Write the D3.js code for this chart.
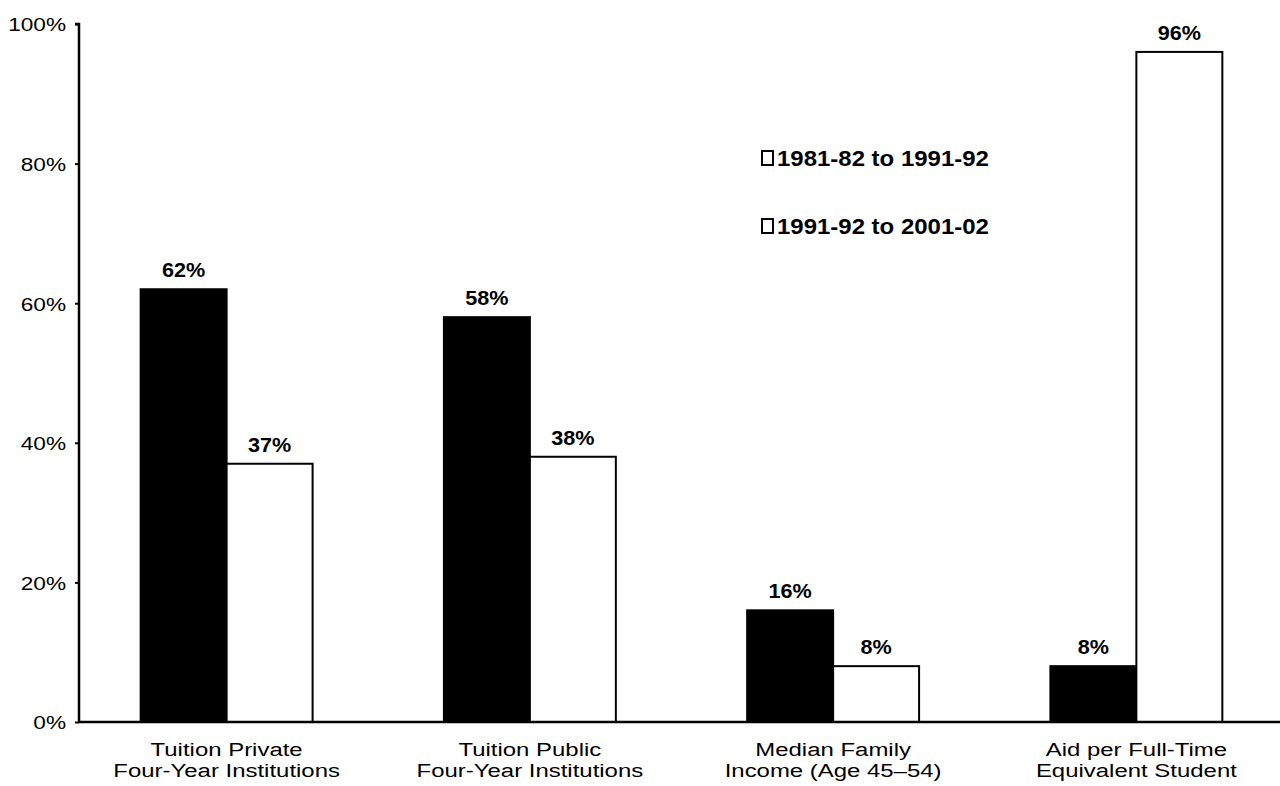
<!DOCTYPE html>
<html>
<head>
<meta charset="utf-8">
<script src="https://cdn.jsdelivr.net/npm/d3@7"></script>
<style>
  html, body { margin: 0; padding: 0; background: #fff; }
  svg { display: block; font-family: "Liberation Sans", Arial, sans-serif; }
</style>
</head>
<body>
<svg id="chart" width="1280" height="786"></svg>
<script>
// Percentage change over each decade
const categories = [
  ["Tuition Private", "Four-Year Institutions"],
  ["Tuition Public", "Four-Year Institutions"],
  ["Median Family", "Income (Age 45\u201354)"],
  ["Aid per Full-Time", "Equivalent Student"]
];
const seriesNames = ["1981-82 to 1991-92", "1991-92 to 2001-02"];
const series1 = [62, 58, 16, 8];   // 1981-82 to 1991-92
const series2 = [37, 38, 8, 96];   // 1991-92 to 2001-02
const yTicks = [0, 20, 40, 60, 80, 100];

const fills = ["#000", "#fff"];

const svg = d3.select("#chart");
const y0 = 722, yTop = 24, xLeft = 79;

const y = d3.scaleLinear().domain([0, 100]).range([y0, yTop]);

const x0 = d3.scaleBand()
  .domain(d3.range(categories.length))
  .range([75, 1288])
  .paddingInner(0.433)
  .paddingOuter(0.2165);

const x1 = d3.scaleBand()
  .domain([0, 1])
  .range([0, x0.bandwidth()]);

const rows = categories.map((c, i) => ({ i, values: [series1[i], series2[i]] }));

// Text with a wide, horizontally stretched face
function wideText(parent, x, y, sx, text, opts) {
  const t = parent.append("text")
    .attr("transform", `translate(${x},${y}) scale(${sx},1)`)
    .attr("text-anchor", opts.anchor || "start")
    .attr("font-size", opts.size)
    .attr("font-weight", opts.weight || "normal")
    .attr("fill", "#000");
  if (opts.dy) t.attr("dy", opts.dy);
  t.text(text);
  return t;
}

// Bars
const groups = svg.selectAll("g.group")
  .data(rows)
  .join("g")
  .attr("class", "group")
  .attr("transform", d => `translate(${x0(d.i)},0)`);

groups.selectAll("rect")
  .data(d => d.values.map((v, s) => ({ v, s })))
  .join("rect")
  .attr("x", d => x1(d.s))
  .attr("y", d => y(d.v))
  .attr("width", x1.bandwidth())
  .attr("height", d => y0 - y(d.v))
  .attr("fill", d => fills[d.s])
  .attr("stroke", "#000")
  .attr("stroke-width", 2);

// Value labels
groups.each(function(d) {
  const g = d3.select(this);
  d.values.forEach((v, s) => {
    wideText(g, x1(s) + x1.bandwidth() / 2, y(v) - 12, 1.08, v + "%",
      { anchor: "middle", size: 20, weight: "bold" });
  });
});

// Y axis
const yAxis = d3.axisLeft(y)
  .tickValues(yTicks)
  .tickFormat("")
  .tickSize(4);

const gy = svg.append("g")
  .attr("transform", `translate(${xLeft},0)`)
  .call(yAxis);
gy.select(".domain").attr("stroke", "#000").attr("stroke-width", 2.5).attr("d", `M-4,${yTop}H0V${y0}`);
gy.selectAll(".tick line").attr("stroke", "#000").attr("stroke-width", 2);
gy.selectAll(".tick").each(function(d) {
  wideText(d3.select(this), -13, 0, 1.19, d + "%",
    { anchor: "end", size: 19, dy: "0.36em" });
});

// X baseline
svg.append("line")
  .attr("x1", xLeft).attr("x2", 1280)
  .attr("y1", y0).attr("y2", y0)
  .attr("stroke", "#000").attr("stroke-width", 2.5);

// Category labels
rows.forEach(d => {
  const cx = x0(d.i) + x0.bandwidth() / 2;
  categories[d.i].forEach((line, k) => {
    wideText(svg, cx, 756 + k * 21.4, 1.26, line, { anchor: "middle", size: 19 });
  });
});

// Legend
const legend = svg.append("g").attr("transform", "translate(761,0)");
const legendY = [166, 234];
seriesNames.forEach((name, k) => {
  legend.append("rect")
    .attr("x", 1).attr("y", legendY[k] - 15)
    .attr("width", 11).attr("height", 14)
    .attr("fill", "#fff").attr("stroke", "#000").attr("stroke-width", 2);
  wideText(legend, 16, legendY[k], 1.09, name, { size: 22, weight: "bold" });
});
</script>
</body>
</html>
